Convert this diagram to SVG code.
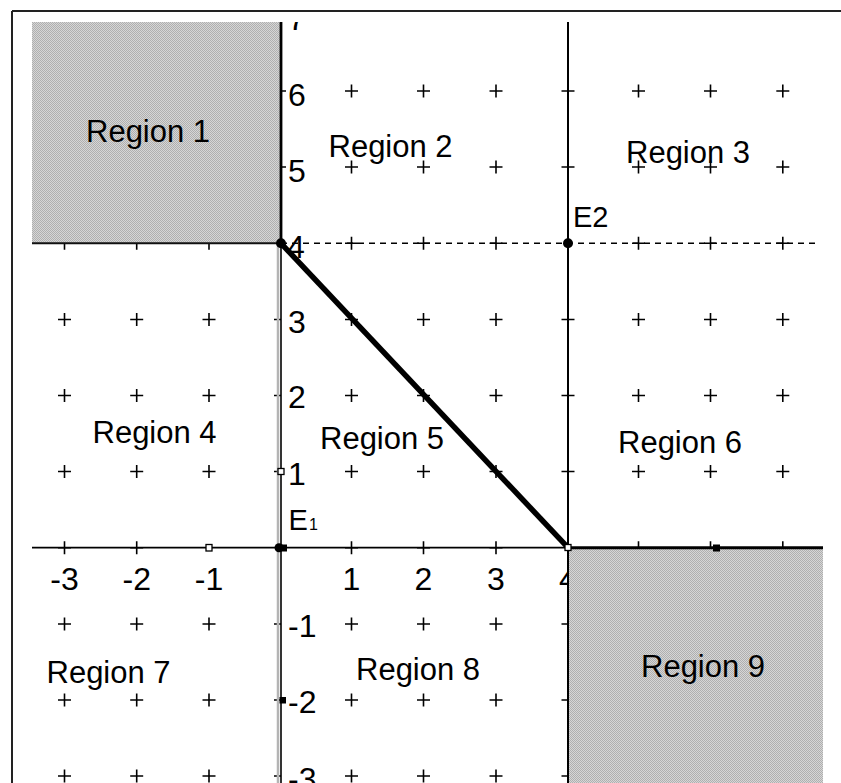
<svg xmlns="http://www.w3.org/2000/svg" xmlns:xlink="http://www.w3.org/1999/xlink" width="841" height="783" viewBox="0 0 841 783">
<style>
.lbl{font-family:"Liberation Sans",Arial,sans-serif;font-size:31px;fill:#000}
.num{font-family:"Liberation Sans",Arial,sans-serif;font-size:32px;fill:#000}
.mid{text-anchor:middle}
.tick{stroke:#000;stroke-width:1.6;fill:none}
.shade{fill:url(#hatch)}
</style>
<defs>
<pattern id="hatch" width="2" height="2" patternUnits="userSpaceOnUse">
<rect width="2" height="2" fill="#d6d6d6"/>
<rect width="1" height="1" fill="#afafaf"/>
<rect x="1" y="1" width="1" height="1" fill="#afafaf"/>
</pattern>
<path id="p" d="M-6.5 0H6.5M0 -6.5V6.5" class="tick"/>
<clipPath id="plot"><rect x="20" y="22" width="821" height="761"/></clipPath>
</defs>
<rect width="841" height="783" fill="#fff"/>
<g id="frame" stroke="#222" stroke-width="2" fill="none">
<path d="M12 11H841M12 11V783"/>
</g>
<g clip-path="url(#plot)">
<g id="grid-marks">
<use href="#p" x="351.5" y="91"/><use href="#p" x="423.5" y="91"/><use href="#p" x="496" y="91"/><use href="#p" x="568" y="91"/><use href="#p" x="638.5" y="91"/><use href="#p" x="710.5" y="91"/><use href="#p" x="782.8" y="91"/>
<use href="#p" x="351.5" y="167"/><use href="#p" x="423.5" y="167"/><use href="#p" x="496" y="167"/><use href="#p" x="568" y="167"/><use href="#p" x="638.5" y="167"/><use href="#p" x="710.5" y="167"/><use href="#p" x="782.8" y="167"/>
<use href="#p" x="64.5" y="243.3"/><use href="#p" x="136.7" y="243.3"/><use href="#p" x="209" y="243.3"/><use href="#p" x="351.5" y="243.3"/><use href="#p" x="423.5" y="243.3"/><use href="#p" x="496" y="243.3"/><use href="#p" x="638.5" y="243.3"/><use href="#p" x="710.5" y="243.3"/><use href="#p" x="782.8" y="243.3"/>
<use href="#p" x="64.5" y="319.5"/><use href="#p" x="136.7" y="319.5"/><use href="#p" x="209" y="319.5"/><use href="#p" x="351.5" y="319.5"/><use href="#p" x="423.5" y="319.5"/><use href="#p" x="496" y="319.5"/><use href="#p" x="568" y="319.5"/><use href="#p" x="638.5" y="319.5"/><use href="#p" x="710.5" y="319.5"/><use href="#p" x="782.8" y="319.5"/>
<use href="#p" x="64.5" y="395.5"/><use href="#p" x="136.7" y="395.5"/><use href="#p" x="209" y="395.5"/><use href="#p" x="351.5" y="395.5"/><use href="#p" x="423.5" y="395.5"/><use href="#p" x="496" y="395.5"/><use href="#p" x="568" y="395.5"/><use href="#p" x="638.5" y="395.5"/><use href="#p" x="710.5" y="395.5"/><use href="#p" x="782.8" y="395.5"/>
<use href="#p" x="64.5" y="471.5"/><use href="#p" x="136.7" y="471.5"/><use href="#p" x="209" y="471.5"/><use href="#p" x="351.5" y="471.5"/><use href="#p" x="423.5" y="471.5"/><use href="#p" x="496" y="471.5"/><use href="#p" x="568" y="471.5"/><use href="#p" x="638.5" y="471.5"/><use href="#p" x="710.5" y="471.5"/><use href="#p" x="782.8" y="471.5"/>
<use href="#p" x="64.5" y="547.7"/><use href="#p" x="136.7" y="547.7"/><use href="#p" x="351.5" y="547.7"/><use href="#p" x="423.5" y="547.7"/><use href="#p" x="496" y="547.7"/><use href="#p" x="638.5" y="547.7"/><use href="#p" x="710.5" y="547.7"/><use href="#p" x="782.8" y="547.7"/>
<use href="#p" x="64.5" y="624"/><use href="#p" x="136.7" y="624"/><use href="#p" x="209" y="624"/><use href="#p" x="351.5" y="624"/><use href="#p" x="423.5" y="624"/><use href="#p" x="496" y="624"/><use href="#p" x="568" y="624"/>
<use href="#p" x="64.5" y="700"/><use href="#p" x="136.7" y="700"/><use href="#p" x="209" y="700"/><use href="#p" x="351.5" y="700"/><use href="#p" x="423.5" y="700"/><use href="#p" x="496" y="700"/><use href="#p" x="568" y="700"/>
<use href="#p" x="64.5" y="776"/><use href="#p" x="136.7" y="776"/><use href="#p" x="209" y="776"/><use href="#p" x="351.5" y="776"/><use href="#p" x="423.5" y="776"/><use href="#p" x="496" y="776"/><use href="#p" x="568" y="776"/>
<path class="tick" d="M281 91H286M281 167H286M274 319.5H281M274 395.5H281M274 471.5H281M274 624H281M274 700H281M274 776H281"/>
</g>
<g id="axis-labels">
<text class="num" x="288" y="30">7</text>
<text class="num" x="288" y="106">6</text>
<text class="num" x="288" y="182">5</text>
<text class="num" x="287" y="258">4</text>
<text class="num" x="288" y="333">3</text>
<text class="num" x="288" y="408">2</text>
<text class="num" x="288" y="485">1</text>
<text class="num" x="288" y="637">-1</text>
<text class="num" x="288" y="713">-2</text>
<text class="num" x="288" y="790">-3</text>
<text class="num mid" x="64.5" y="590">-3</text>
<text class="num mid" x="136.7" y="590">-2</text>
<text class="num mid" x="209" y="590">-1</text>
<text class="num mid" x="351.5" y="590">1</text>
<text class="num mid" x="423.5" y="590">2</text>
<text class="num mid" x="496" y="590">3</text>
<text class="num mid" x="568" y="590">4</text>
</g>
<g id="region1">
<rect class="shade" x="32" y="22" width="249" height="221.3"/>
<text class="lbl" x="86" y="141.7">Region 1</text>
</g>
<g id="region9">
<rect class="shade" x="568" y="547.7" width="255" height="240"/>
<text class="lbl" x="641" y="676.7">Region 9</text>
</g>
<g id="region2"><text class="lbl" x="328.5" y="156.7">Region 2</text></g>
<g id="region3"><text class="lbl" x="626" y="163.3">Region 3</text></g>
<g id="region4"><text class="lbl" x="92.5" y="443.3">Region 4</text></g>
<g id="region5"><text class="lbl" x="320" y="449.3">Region 5</text></g>
<g id="region6"><text class="lbl" x="618" y="453.3">Region 6</text></g>
<g id="region7"><text class="lbl" x="46.5" y="683.3">Region 7</text></g>
<g id="region8"><text class="lbl" x="356" y="680">Region 8</text></g>
<g id="lines" fill="none">
<path d="M278 243V783" stroke="#b4b4b4" stroke-width="2.5"/>
<path d="M281 243V783" stroke="#000" stroke-width="1.6"/>
<path d="M281 22V243.3" stroke="#000" stroke-width="2.8"/>
<path d="M568 22V783" stroke="#000" stroke-width="2"/>
<path d="M32 243.3H281" stroke="#111" stroke-width="2"/>
<path d="M281 243.3H818" stroke="#000" stroke-width="1.4" stroke-dasharray="6 5"/>
<path d="M32 547.7H568" stroke="#000" stroke-width="1.8"/>
<path d="M568 547.7H823" stroke="#000" stroke-width="3"/>
<path d="M281 243.3L568 547.7" stroke="#000" stroke-width="5.5"/>
</g>
<g id="points">
<circle cx="281" cy="243.3" r="5" fill="#000"/>
<circle cx="568" cy="243.3" r="5" fill="#000"/>
<circle cx="279" cy="547.7" r="4.5" fill="#000"/>
<rect x="280" y="544.5" width="7" height="7" fill="#000"/>
<rect x="206" y="544.5" width="6" height="6.5" fill="#fff" stroke="#000" stroke-width="1.3"/>
<rect x="278" y="468.5" width="6" height="6" fill="#fff" stroke="#000" stroke-width="1.3"/>
<rect x="279.5" y="697" width="6.5" height="6.5" fill="#000"/>
<rect x="565" y="544.5" width="6" height="6" fill="#fff" stroke="#000" stroke-width="1.3"/>
<rect x="713" y="544.5" width="7" height="7" fill="#000"/>
</g>
<g id="point-labels">
<text class="lbl" x="573" y="227" style="font-size:29px">E2</text>
<text class="lbl" x="288.5" y="530" style="font-size:29px">E</text>
<text class="lbl" x="309" y="530" style="font-size:16px">1</text>
</g>
</g>
</svg>
